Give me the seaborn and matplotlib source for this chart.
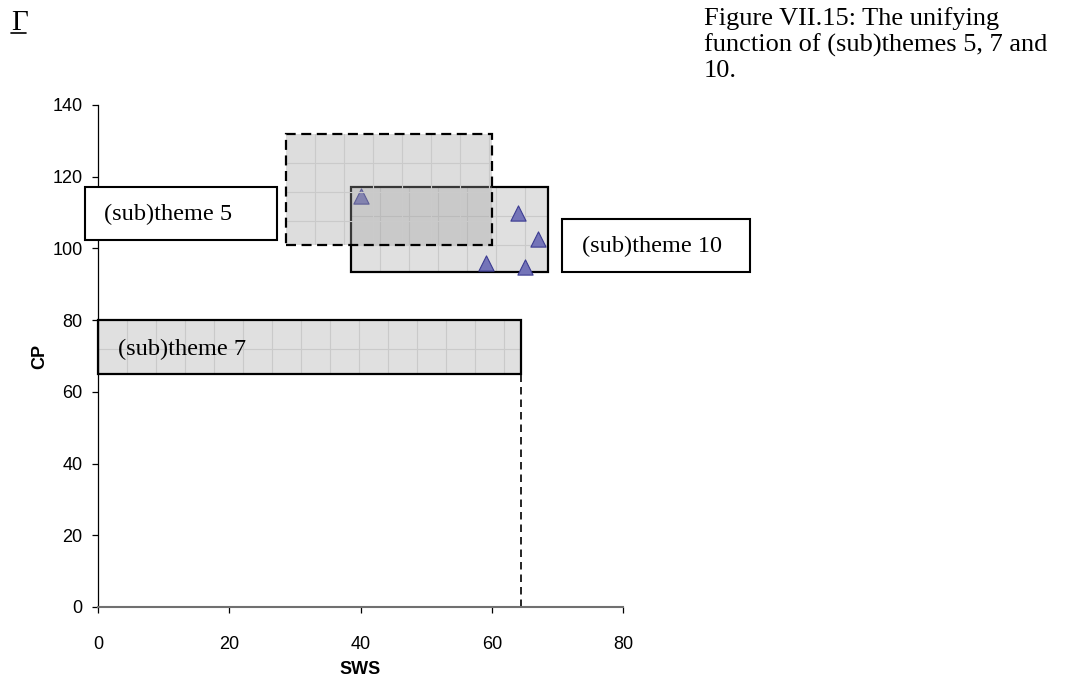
import numpy as np
import pandas as pd
import matplotlib
matplotlib.use("Agg")
import matplotlib.pyplot as plt
import seaborn as sns
from matplotlib.patches import Rectangle
from matplotlib.lines import Line2D

# data
themes = ["(sub)theme 5", "(sub)theme 7", "(sub)theme 10"]
x_low = [28.6, 0.0, 38.6]
x_high = [60.1, 64.5, 68.5]
y_low = [101.0, 65.0, 93.5]
y_high = [132.0, 80.0, 117.0]

sws = [40.0, 64.0, 67.1, 59.1, 65.1]
cp = [114.6, 109.8, 102.6, 95.8, 94.9]

x_ticks = [0, 20, 40, 60, 80]
y_ticks = [0, 20, 40, 60, 80, 100, 120, 140]

df = pd.DataFrame({"SWS": sws, "CP": cp})

sns.set_style("white")
plt.rcParams["font.family"] = ["Liberation Sans", "DejaVu Sans"]
plt.rcParams["text.color"] = "black"
plt.rcParams["axes.labelcolor"] = "black"
plt.rcParams["xtick.color"] = "black"
plt.rcParams["ytick.color"] = "black"

fig = plt.figure(figsize=(10.76, 6.84), dpi=100)
ax = fig.add_axes([0.0911, 0.1126, 0.4879, 0.7339])

sns.scatterplot(data=df, x="SWS", y="CP", marker="^", s=120, color="#7474b8",
                edgecolor="#3c3c92", linewidth=0.8, ax=ax, zorder=3)

ax.set_xlim(0, 80)
ax.set_ylim(0, 140)
ax.set_xticks(x_ticks)
ax.set_yticks(y_ticks)

# texture step ~29 px in both directions
step_x = 29 / 6.5625
step_y = 29 / 3.586

def shaded(i, face, alpha, ls, z):
    w = x_high[i] - x_low[i]
    h = y_high[i] - y_low[i]
    r = Rectangle((x_low[i], y_low[i]), w, h, facecolor=face, alpha=alpha,
                  edgecolor="none", zorder=z)
    ax.add_patch(r)
    xs = np.arange(x_low[i] + step_x, x_high[i], step_x)
    ys = np.arange(y_high[i] - step_y, y_low[i], -step_y)
    for xv in xs:
        ln = ax.plot([xv, xv], [y_low[i], y_high[i]], color="#cacaca", lw=0.8, zorder=z + 0.1)[0]
        ln.set_clip_path(r)
    for yv in ys:
        ln = ax.plot([x_low[i], x_high[i]], [yv, yv], color="#cacaca", lw=0.8, zorder=z + 0.1)[0]
        ln.set_clip_path(r)
    edge = Rectangle((x_low[i], y_low[i]), w, h, facecolor="none", edgecolor="black",
                     linewidth=1.6, linestyle=ls, zorder=z + 0.2, clip_on=False)
    ax.add_patch(edge)

shaded(1, "#e0e0e0", 1.0, "-", 1)
shaded(2, "#e0e0e0", 1.0, "-", 1)
shaded(0, "#a0a0a0", 0.35, (0, (4.5, 2.5)), 4)

# dashed drop line from theme 7
ax.plot([x_high[1], x_high[1]], [0, y_low[1]], color="black", lw=1.2,
        linestyle=(0, (4.5, 3)), zorder=2)

ax.text(3, 71.8, themes[1], fontsize=17.5, family=["Liberation Serif"], va="center", zorder=6)

sns.despine(ax=ax)
ax.spines["left"].set_color("black")
ax.spines["left"].set_linewidth(0.9)
ax.spines["bottom"].set_color("#707070")
ax.spines["bottom"].set_linewidth(1.5)
ax.tick_params(axis="y", direction="out", length=4, width=0.9, color="black",
               labelsize=13, pad=7, left=True)
ax.tick_params(axis="x", direction="out", length=4, width=0.9, color="black",
               labelsize=13, pad=17, bottom=True)
ax.set_xlabel("SWS", fontsize=13, fontweight="bold", labelpad=5.5)
ax.set_ylabel("CP", fontsize=13, fontweight="bold", labelpad=3)

# boxed labels sitting over the plot edge
W, H = 1076, 684
def box(x0, y0, x1, y1, label, tx):
    fig.add_artist(Rectangle((x0 / W, 1 - y1 / H), (x1 - x0) / W, (y1 - y0) / H,
                             transform=fig.transFigure, facecolor="white",
                             edgecolor="black", linewidth=1.5, zorder=5))
    fig.text(tx / W, 1 - (y0 + y1 + 2) / 2 / H, label, fontsize=17.5,
             family=["Liberation Serif"], va="center", ha="left", zorder=6)

box(85, 187, 277, 240, themes[0], 104)
box(562, 219, 750, 272, themes[2], 582)

# caption and corner mark
fig.text(704 / W, 1 - 7 / H, "Figure VII.15: The unifying\nfunction of (sub)themes 5, 7 and\n10.",
         fontsize=19, family=["Liberation Serif"], va="top", ha="left", linespacing=1.2)
fig.text(11 / W, 1 - 30 / H, "\u0393", fontsize=21, family=["Liberation Serif"],
         va="baseline", ha="left")
fig.add_artist(Line2D([11 / W, 26 / W], [1 - 33 / H, 1 - 33 / H], color="black",
                      lw=1.2, transform=fig.transFigure))

fig.savefig("out.png", dpi=100)
